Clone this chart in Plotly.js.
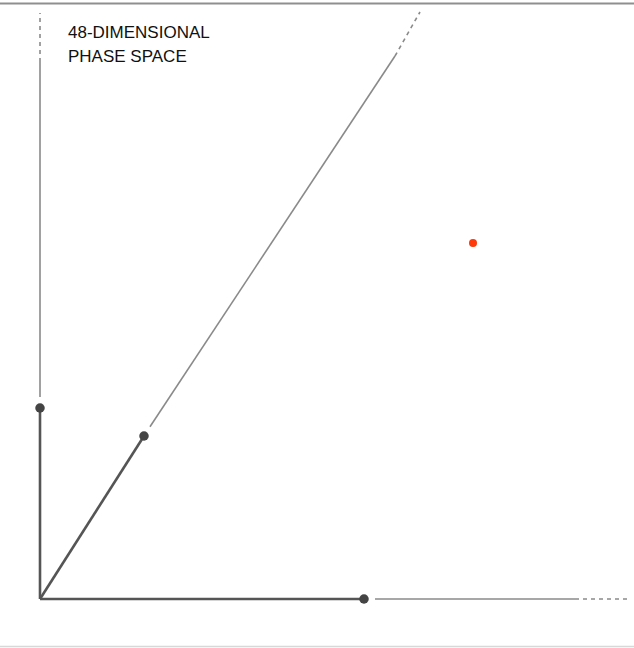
<!DOCTYPE html>
<html>
<head>
<meta charset="utf-8">
<script src="https://cdn.plot.ly/plotly-3.0.1.min.js"></script>
<style>html,body{margin:0;padding:0;background:#fff;}#chart{width:634px;height:648px;}</style>
</head>
<body>
<div id="chart"></div>
<script>
// Coordinates in diagram units (origin of the three axes at 0,0)
const axisNames = ["vertical", "oblique", "horizontal"];
const axisEndX = [0, 380, 588];          // far end of each axis
const axisEndY = [586, 587, 0];
const dashStartX = [0, 355, 535];        // where each axis turns dashed
const dashStartY = [537, 543, 0];
const pointX = [0, 104, 324];            // projections of the state on each axis
const pointY = [191, 163, 0];
const stateX = [433];                    // state point in phase space
const stateY = [356];
const titleLines = ["48-DIMENSIONAL", "PHASE SPACE"];

const gap = 11; // gap after each projected point

const thickX = [], thickY = [], thinX = [], thinY = [], dashX = [], dashY = [];
for (let i = 0; i < axisNames.length; i++) {
  thickX.push(0, pointX[i], null); thickY.push(0, pointY[i], null);
  const dx = axisEndX[i], dy = axisEndY[i];
  const L = Math.hypot(dx, dy);
  const gx = pointX[i] + gap * dx / L, gy = pointY[i] + gap * dy / L;
  thinX.push(gx, dashStartX[i], null); thinY.push(gy, dashStartY[i], null);
  dashX.push(dashStartX[i], axisEndX[i], null); dashY.push(dashStartY[i], axisEndY[i], null);
}

const traces = [
  {x: thinX, y: thinY, mode: "lines", line: {color: "#8a8a8a", width: 1.6}, hoverinfo: "skip"},
  {x: dashX, y: dashY, mode: "lines", line: {color: "#8a8a8a", width: 1.6, dash: "4px,4px"}, hoverinfo: "skip"},
  {x: thickX, y: thickY, mode: "lines", line: {color: "#555555", width: 2.6}, hoverinfo: "skip"},
  {x: pointX, y: pointY, mode: "markers", marker: {color: "#444444", size: 9.5}, hoverinfo: "skip"},
  {x: stateX, y: stateY, mode: "markers", marker: {color: "#ff3a0a", size: 8}, hoverinfo: "skip"}
];

const layout = {
  width: 634, height: 648,
  margin: {l: 0, r: 0, t: 0, b: 0},
  paper_bgcolor: "#ffffff", plot_bgcolor: "#ffffff",
  showlegend: false,
  xaxis: {range: [-40, 594], visible: false, fixedrange: true},
  yaxis: {range: [-49, 599], visible: false, fixedrange: true},
  shapes: [
    {type: "line", xref: "paper", yref: "paper", x0: 0, x1: 1, y0: 1 - 3.5/648, y1: 1 - 3.5/648, line: {color: "#8f8f8f", width: 2}},
    {type: "line", xref: "paper", yref: "paper", x0: 0, x1: 1, y0: 1.5/648, y1: 1.5/648, line: {color: "#d8d8d8", width: 1.5}}
  ],
  annotations: titleLines.map((t, i) => ({
    text: t, xref: "x", yref: "y", x: 26, y: 578 - i * 24,
    xanchor: "left", yanchor: "top", showarrow: false,
    font: {family: "Liberation Sans, Arial, sans-serif", size: 17, color: "#111111"}
  }))
};

Plotly.newPlot("chart", traces, layout, {displayModeBar: false, staticPlot: true});
</script>
</body>
</html>
